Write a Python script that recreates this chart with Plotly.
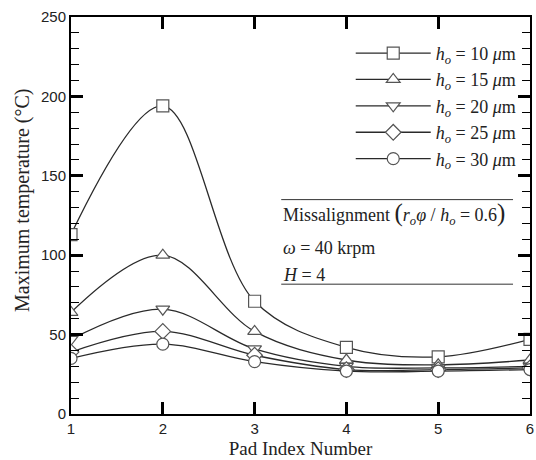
import plotly.graph_objects as go

pads = [1, 2, 3, 4, 5, 6]
h10 = [113, 194, 71, 42, 36, 47]
h15 = [64, 100, 52, 34, 31, 34]
h20 = [47, 66, 41, 30, 29, 30]
h25 = [39, 52, 37, 28, 28, 29]
h30 = [35, 44, 33, 27, 27, 28]
labels = ["10", "15", "20", "25", "30"]
series = [h10, h15, h20, h25, h30]
symbols = ["square", "triangle-up", "triangle-down", "diamond", "circle"]

SERIF = "Liberation Serif, Times New Roman, serif"
SANS = "Liberation Sans, Arial, sans-serif"

fig = go.Figure()
for lab, ys, sym in zip(labels, series, symbols):
    fig.add_trace(go.Scatter(
        x=pads, y=ys, mode="lines+markers",
        name=f"<i>h</i><sub><i>o</i></sub> = {lab} <i>μ</i>m",
        line=dict(color="#2a2a2a", width=1.3, shape="spline", smoothing=1),
        marker=dict(symbol=sym, size=12, color="white",
                    line=dict(color="#555555", width=1.2)),
    ))

axis_common = dict(
    showline=True, linecolor="black", linewidth=2, mirror="ticks",
    ticks="inside", tickcolor="black", tickwidth=2.5, ticklen=12,
    showgrid=False, zeroline=False, ticklabeloverflow="allow",
    tickfont=dict(family=SANS, size=15, color="#222"),
)
fig.update_xaxes(range=[1, 6], dtick=1, **axis_common,
                 title=dict(text="Pad Index Number", font=dict(family=SERIF, size=19, color="#222"), standoff=6))
fig.update_yaxes(range=[0, 250], dtick=50, **axis_common,
                 minor=dict(dtick=10, ticks="inside", ticklen=8, tickwidth=1, tickcolor="black"))

fig.update_layout(
    width=536, height=460,
    margin=dict(l=71, r=2, t=17, b=46),
    plot_bgcolor="white", paper_bgcolor="white",
    legend=dict(x=0.982, y=0.955, xanchor="right", yanchor="top",
                bgcolor="rgba(0,0,0,0)", itemwidth=75,
                font=dict(family=SERIF, size=18, color="#222"), tracegroupgap=0),
)

fig.add_annotation(text="Maximum temperature (°C)", xref="paper", yref="paper",
                   x=-0.106, y=0.54, xanchor="center", yanchor="middle", textangle=-90,
                   showarrow=False, font=dict(family=SERIF, size=20, color="#222"))

x0, x1 = 0.458, 0.963
fig.add_shape(type="line", xref="paper", yref="paper", x0=x0, x1=x1, y0=0.540, y1=0.540,
              line=dict(color="#333", width=1))
fig.add_shape(type="line", xref="paper", yref="paper", x0=x0, x1=x1, y0=0.327, y1=0.327,
              line=dict(color="#333", width=1))
notes = [
    ("Missalignment <span style='font-size:25px'>(</span><i>r</i><sub><i>o</i></sub><i>φ</i> / <i>h</i><sub><i>o</i></sub> = 0.6<span style='font-size:25px'>)</span>", 0.505),
    ("<i>ω</i> = 40 krpm", 0.417),
    ("<i>H</i> = 4", 0.350),
]
for txt, yy in notes:
    fig.add_annotation(text=txt, xref="paper", yref="paper", x=x0, y=yy,
                       xanchor="left", yanchor="middle", showarrow=False,
                       font=dict(family=SERIF, size=18, color="#222"))

fig.write_html("out.html")
